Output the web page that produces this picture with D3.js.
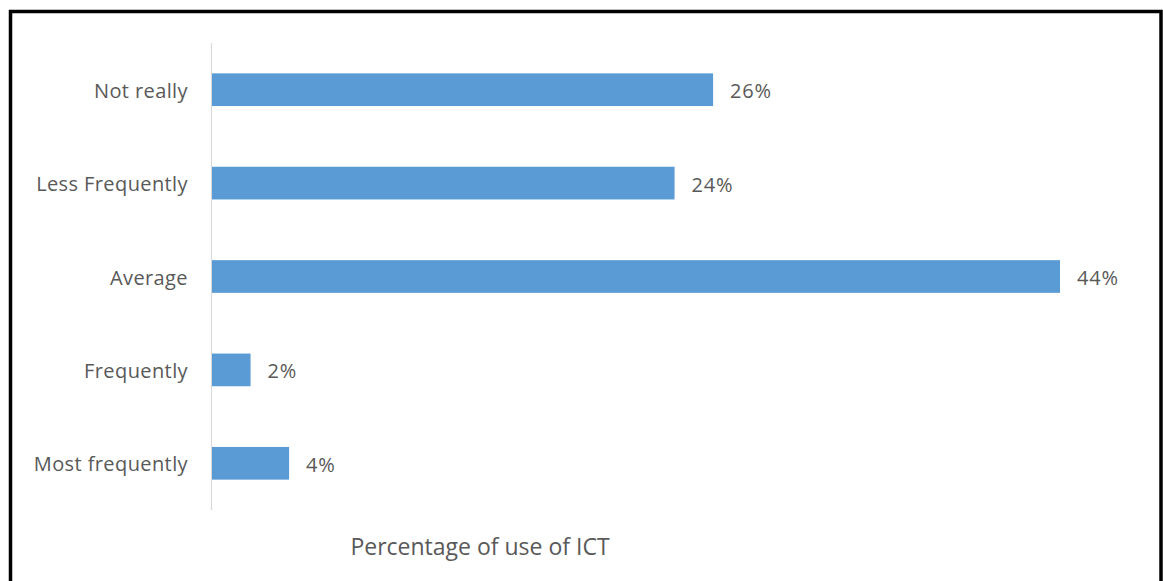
<!DOCTYPE html>
<html>
<head>
<meta charset="utf-8">
<script src="https://cdn.jsdelivr.net/npm/d3@7/dist/d3.min.js"></script>
<style>
  html, body { margin: 0; padding: 0; background: #fff; }
  svg { display: block; }
</style>
</head>
<body>
<svg id="chart" width="1163" height="581"></svg>
<script>
// Survey responses: frequency of ICT use
const categories = ["Not really", "Less Frequently", "Average", "Frequently", "Most frequently"];
const values = [26, 24, 44, 2, 4];
const axisTitle = "Percentage of use of ICT";

const svg = d3.select("#chart");
const W = 1163, H = 581;
const font = "'Open Sans', sans-serif";
const textColor = "#595959";

// outer frame (open at the bottom)
svg.append("path")
  .attr("d", `M10.5,${H} V11.5 H1161 V${H}`)
  .attr("fill", "none")
  .attr("stroke", "#000")
  .attr("stroke-width", 3.5);

const x = d3.scaleLinear().domain([0, 44]).range([212, 1060]);
const y = d3.scaleBand().domain(categories).range([43, 510]).paddingInner(0.65).paddingOuter(0.325);

// category axis
const yAxis = svg.append("g")
  .attr("transform", `translate(${x(0) - 1},0)`)
  .call(d3.axisLeft(y).tickSize(0).tickPadding(23));
yAxis.select(".domain").attr("stroke", "#d9d9d9").attr("stroke-width", 1.2)
  .attr("d", `M0.5,43 V510`);
yAxis.selectAll("text")
  .attr("font-family", font)
  .attr("font-size", 20)
  .attr("letter-spacing", 0.4)
  .attr("dy", "0.4em")
  .attr("fill", textColor);

// bars
svg.append("g").selectAll("rect")
  .data(values)
  .join("rect")
  .attr("x", x(0))
  .attr("y", (d, i) => y(categories[i]))
  .attr("width", d => x(d) - x(0))
  .attr("height", y.bandwidth())
  .attr("fill", "#5b9bd5");

// value labels
svg.append("g").selectAll("text")
  .data(values)
  .join("text")
  .attr("x", d => x(d) + 17)
  .attr("y", (d, i) => y(categories[i]) + y.bandwidth() / 2)
  .attr("dy", "0.42em")
  .attr("font-family", font)
  .attr("font-size", 20)
  .attr("letter-spacing", 0.8)
  .attr("fill", textColor)
  .text(d => d + "%");

// axis title
svg.append("text")
  .attr("x", 480)
  .attr("y", 555)
  .attr("text-anchor", "middle")
  .attr("font-family", font)
  .attr("font-size", 23)
  .attr("fill", textColor)
  .text(axisTitle);
</script>
</body>
</html>
